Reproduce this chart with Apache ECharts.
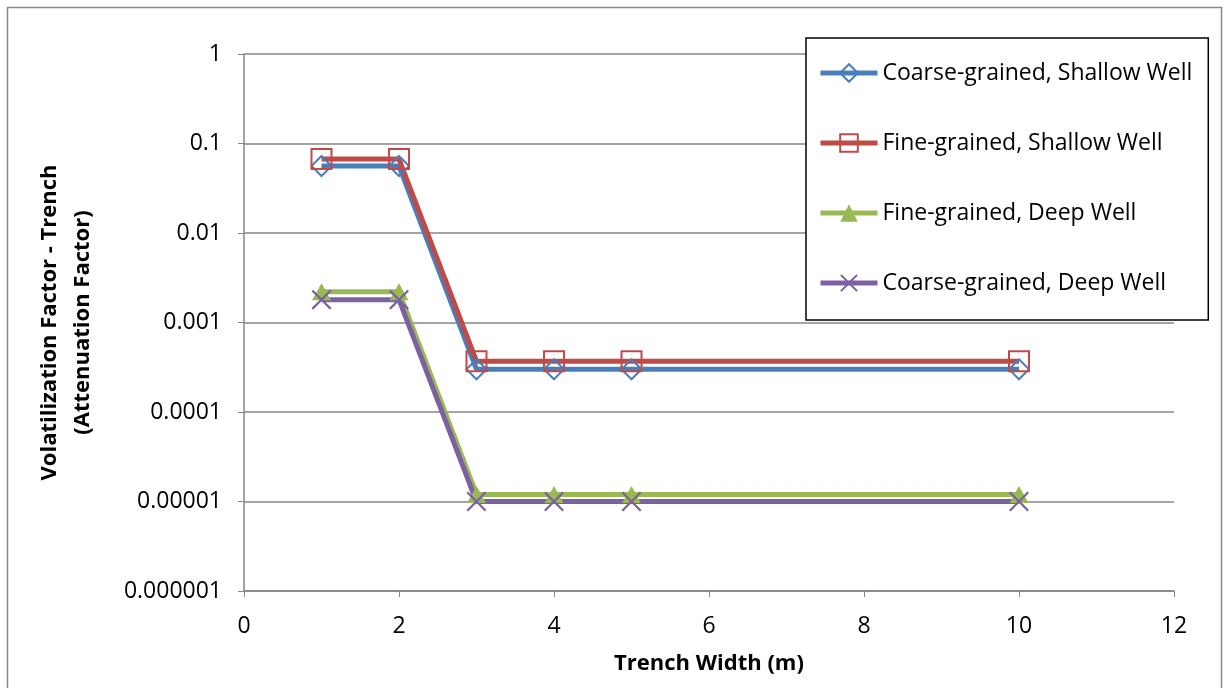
<!DOCTYPE html>
<html><head><meta charset="utf-8">
<script src="https://cdn.jsdelivr.net/npm/echarts@6/dist/echarts.min.js"></script>
<style>html,body{margin:0;padding:0;background:#fff}#c{width:1230px;height:688px}</style>
</head><body><div id="c"></div>
<script>
const xValues = [1, 2, 3, 4, 5, 10];
const seriesNames = ['Coarse-grained, Shallow Well', 'Fine-grained, Shallow Well', 'Fine-grained, Deep Well', 'Coarse-grained, Deep Well'];
const coarseShallow = [0.056, 0.056, 0.0003, 0.0003, 0.0003, 0.0003];
const fineShallow = [0.067, 0.067, 0.00037, 0.00037, 0.00037, 0.00037];
const fineDeep = [0.0022, 0.0022, 0.000012, 0.000012, 0.000012, 0.000012];
const coarseDeep = [0.0018, 0.0018, 0.00001, 0.00001, 0.00001, 0.00001];
const yTickLabels = ['0.000001', '0.00001', '0.0001', '0.001', '0.01', '0.1', '1'];
const xTickLabels = ['0', '2', '4', '6', '8', '10', '12'];

const FONT = 'Open Sans';
const pair = arr => xValues.map((x, i) => [x, arr[i]]);
const crossPath = 'path://M0,0.8 L0.8,0 L5,4.2 L9.2,0 L10,0.8 L5.8,5 L10,9.2 L9.2,10 L5,5.8 L0.8,10 L0,9.2 L4.2,5 Z';

function mk(name, data, color, symbol, size, hollow) {
  return {
    name, type: 'line', data: pair(data), symbol, symbolSize: size,
    lineStyle: { color, width: 5 },
    itemStyle: hollow ? { color: 'rgba(255,255,255,0)', borderColor: color, borderWidth: 2 } : { color, borderWidth: 0 },
    emphasis: { disabled: true }, animation: false, z: 2
  };
}

const chart = echarts.init(document.getElementById('c'));
chart.setOption({
  backgroundColor: '#fff',
  animation: false,
  graphic: [{ type: 'rect', shape: { x: 7.5, y: 7.5, width: 1214, height: 690 }, style: { fill: 'none', stroke: '#888', lineWidth: 1.5 }, silent: true, z: -10 }],
  grid: { left: 244, right: 56, top: 54, bottom: 97 },
  legend: {
    orient: 'vertical', left: 806, top: 38,
    padding: [21, 16, 23, 12], itemGap: 42, itemWidth: 57, itemHeight: 22,
    backgroundColor: '#fff', borderColor: '#000', borderWidth: 1.5,
    lineStyle: { width: 5 },
    textStyle: { fontFamily: FONT, fontSize: 23, color: '#000', lineHeight: 28 },
    data: seriesNames
  },
  xAxis: {
    type: 'value', min: 0, max: 12, interval: 2,
    name: 'Trench Width (m)', nameLocation: 'middle', nameGap: 62,
    nameTextStyle: { fontFamily: FONT, fontSize: 22, fontWeight: 'bold', color: '#000' },
    axisLine: { show: true, lineStyle: { color: '#868686', width: 1.5 } },
    axisTick: { show: true, length: 6, lineStyle: { color: '#868686' } },
    splitLine: { show: false },
    axisLabel: { fontFamily: FONT, fontSize: 23, color: '#000', margin: 24, formatter: v => xTickLabels[Math.round(v / 2)] }
  },
  yAxis: {
    type: 'log', logBase: 10, min: 0.000001, max: 1,
    name: 'Volatilization Factor - Trench\n(Attenuation Factor)', nameLocation: 'middle', nameGap: 145, nameRotate: 90,
    nameTextStyle: { fontFamily: FONT, fontSize: 22, fontWeight: 'bold', color: '#000', lineHeight: 33 },
    axisLine: { show: true, lineStyle: { color: '#868686', width: 1.5 } },
    axisTick: { show: true, length: 6, lineStyle: { color: '#868686' } },
    splitLine: { show: true, lineStyle: { color: '#868686', width: 1.5 } },
    minorTick: { show: false },
    axisLabel: { fontFamily: FONT, fontSize: 23, color: '#000', margin: 22, formatter: v => yTickLabels[Math.round(Math.log10(v)) + 6] }
  },
  series: [
    mk(seriesNames[0], coarseShallow, '#4A7EBB', 'diamond', 20, true),
    mk(seriesNames[1], fineShallow, '#BE4B48', 'rect', 20, true),
    mk(seriesNames[2], fineDeep, '#98B954', 'triangle', [19, 17], false),
    mk(seriesNames[3], coarseDeep, '#7D60A0', crossPath, 20, false)
  ]
});
</script></body></html>
